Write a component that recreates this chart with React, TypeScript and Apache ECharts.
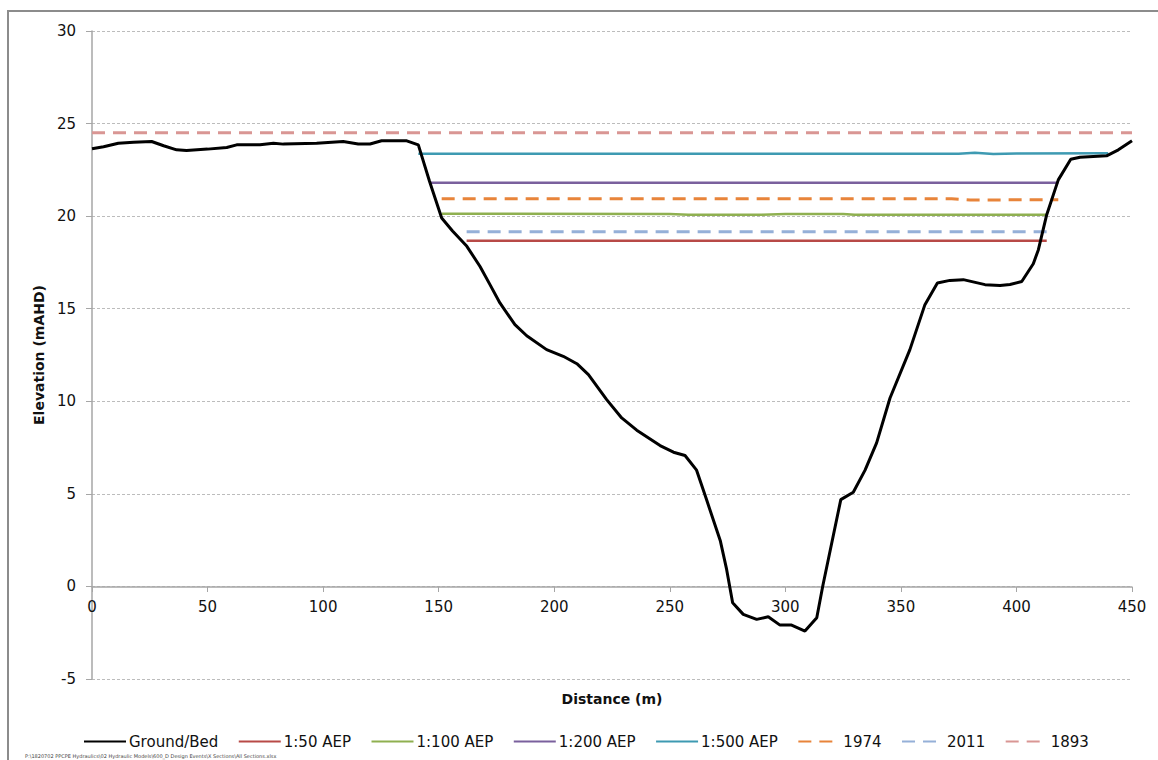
import React, { useEffect, useRef } from "react";
import * as echarts from "echarts";

// Ground / bed profile (distance m, elevation mAHD)
const groundDistance = [0, 5, 11.4, 18, 25.8, 31, 36.6, 40.9, 50, 58.3, 62.6, 72.7, 78.5, 82.8, 97.2, 108.7, 115.2, 120.3, 125.3, 136.2, 141.2, 146, 151.3, 156, 162.2, 167.9, 172.2, 176.5, 183, 188.1, 196.7, 203.9, 209.8, 214.8, 222.7, 229.2, 235.7, 245.8, 251.6, 256.6, 261.6, 265.9, 271.9, 274.6, 277.2, 281.8, 287.6, 292.6, 297.7, 302.7, 308.5, 313.6, 316.2, 324, 329.4, 334.5, 339.5, 345.3, 353.9, 360.4, 365.8, 371.2, 377, 386.4, 392.9, 397.2, 402.3, 407.3, 409.5, 413.1, 418.1, 423.5, 427.5, 439, 444.1, 450];
const groundElevation = [23.64, 23.75, 23.94, 23.99, 24.03, 23.8, 23.58, 23.55, 23.62, 23.71, 23.85, 23.85, 23.94, 23.89, 23.94, 24.03, 23.9, 23.9, 24.07, 24.07, 23.85, 21.9, 19.9, 19.2, 18.37, 17.28, 16.3, 15.31, 14.14, 13.54, 12.79, 12.43, 12.03, 11.44, 10.09, 9.1, 8.44, 7.61, 7.25, 7.07, 6.28, 4.69, 2.45, 0.92, -0.88, -1.51, -1.78, -1.64, -2.09, -2.09, -2.41, -1.69, 0.02, 4.69, 5.09, 6.28, 7.75, 10.18, 12.79, 15.22, 16.39, 16.53, 16.57, 16.3, 16.26, 16.31, 16.47, 17.43, 18.19, 20.08, 21.96, 23.07, 23.18, 23.26, 23.58, 24.07];

// Flood levels
const aep50Distance = [162.1, 413.1];
const aep50Level = [18.67, 18.67];
const aep100Distance = [151.3, 250, 258, 290, 300, 325, 330, 413.1];
const aep100Level = [20.13, 20.12, 20.07, 20.08, 20.12, 20.12, 20.07, 20.08];
const aep200Distance = [146.3, 418.1];
const aep200Level = [21.8, 21.8];
const aep500Distance = [141.2, 375, 382, 390, 400, 439.7];
const aep500Level = [23.37, 23.37, 23.42, 23.35, 23.38, 23.4];
const flood1974Distance = [151.3, 372, 380, 418.1];
const flood1974Level = [20.94, 20.94, 20.87, 20.89];
const flood2011Distance = [162.1, 413.1];
const flood2011Level = [19.16, 19.16];
const flood1893Distance = [0, 450];
const flood1893Level = [24.5, 24.5];

const seriesNames = ["Ground/Bed", "1:50 AEP", "1:100 AEP", "1:200 AEP", "1:500 AEP", "1974", "2011", "1893"];
const xTicks = { min: 0, max: 450, interval: 50 };
const yTicks = { min: -5, max: 30, interval: 5 };

const FONT = "'DejaVu Sans', Verdana, sans-serif";

function zip(xs: number[], ys: number[]) {
  return xs.map((x, i) => [x, ys[i]]);
}

export default function App() {
  const ref = useRef<HTMLDivElement>(null);
  useEffect(() => {
    if (!ref.current) return;
    const chart = echarts.init(ref.current, undefined, { renderer: "svg" });
    const mk = (name: string, data: number[][], color: string, width: number, dashed: boolean) => ({
      name,
      type: "line",
      data,
      showSymbol: false,
      symbol: "none",
      smooth: false,
      lineStyle: { color, width, type: dashed ? [13, 8] : "solid", cap: "butt" },
      itemStyle: { color },
      z: name === "Ground/Bed" ? 10 : 5,
    });
    chart.setOption({
      animation: false,
      backgroundColor: "#ffffff",
      grid: { left: 92, right: 26, top: 31, bottom: 81, containLabel: false, outerBoundsMode: "none" },
      xAxis: {
        type: "value",
        min: xTicks.min,
        max: xTicks.max,
        interval: xTicks.interval,
        offset: -92,
        name: "Distance (m)",
        nameLocation: "middle",
        nameGap: 105,
        nameTextStyle: { fontFamily: FONT, fontSize: 14, fontWeight: "bold", color: "#111" },
        axisLine: { onZero: false, lineStyle: { color: "#a6a6a6", width: 1.5 } },
        axisTick: { show: true, inside: false, length: 5, lineStyle: { color: "#a6a6a6" } },
        axisLabel: { fontFamily: FONT, fontSize: 15, color: "#111", margin: 12 },
        splitLine: { show: false },
      },
      yAxis: {
        type: "value",
        min: yTicks.min,
        max: yTicks.max,
        interval: yTicks.interval,
        name: "Elevation (mAHD)",
        nameLocation: "middle",
        nameGap: 46,
        nameRotate: 90,
        nameTextStyle: { fontFamily: FONT, fontSize: 14, fontWeight: "bold", color: "#111" },
        axisLine: { show: true, onZero: false, lineStyle: { color: "#a6a6a6", width: 1.5 } },
        axisTick: { show: true, inside: false, length: 6, lineStyle: { color: "#a6a6a6" } },
        axisLabel: { fontFamily: FONT, fontSize: 15, color: "#111", margin: 16 },
        splitLine: { show: true, lineStyle: { color: "#bcbcbc", width: 1, type: [3, 2] } },
      },
      legend: {
        data: seriesNames,
        left: 78,
        top: 729,
        itemWidth: 42,
        itemHeight: 14,
        itemGap: 19.5,
        itemStyle: { color: "rgba(0,0,0,0)", borderWidth: 0, opacity: 0 },
        textStyle: { fontFamily: FONT, fontSize: 15, color: "#111", padding: [0, 0, 0, -2] },
      },
      graphic: [
        {
          type: "rect",
          shape: { x: 8, y: 11, width: 1170, height: 770 },
          style: { fill: "none", stroke: "#8c8c8c", lineWidth: 2 },
          silent: true,
        },
        {
          type: "text",
          left: 25,
          top: 753,
          style: {
            text: "P:\\1820702 PPCPE Hydraulics\\02 Hydraulic Models\\600_D Design Events\\X Sections\\All Sections.xlsx",
            fontFamily: FONT,
            fontSize: 5,
            fill: "#444",
          },
        },
      ],
      series: [
        mk("1893", zip(flood1893Distance, flood1893Level), "#d99694", 3, true),
        mk("1:500 AEP", zip(aep500Distance, aep500Level), "#3e9ab2", 2.5, false),
        mk("1:200 AEP", zip(aep200Distance, aep200Level), "#7a609d", 2.5, false),
        mk("1974", zip(flood1974Distance, flood1974Level), "#e8843a", 3, true),
        mk("1:100 AEP", zip(aep100Distance, aep100Level), "#8fb050", 2.5, false),
        mk("2011", zip(flood2011Distance, flood2011Level), "#95b0d8", 3, true),
        mk("1:50 AEP", zip(aep50Distance, aep50Level), "#b84a47", 2.5, false),
        mk("Ground/Bed", zip(groundDistance, groundElevation), "#000000", 3, false),
      ],
    });
    return () => chart.dispose();
  }, []);
  return (
    <div
      ref={ref}
      style={{ position: "fixed", left: 0, top: 0, width: 1158, height: 760, background: "#fff" }}
    />
  );
}
